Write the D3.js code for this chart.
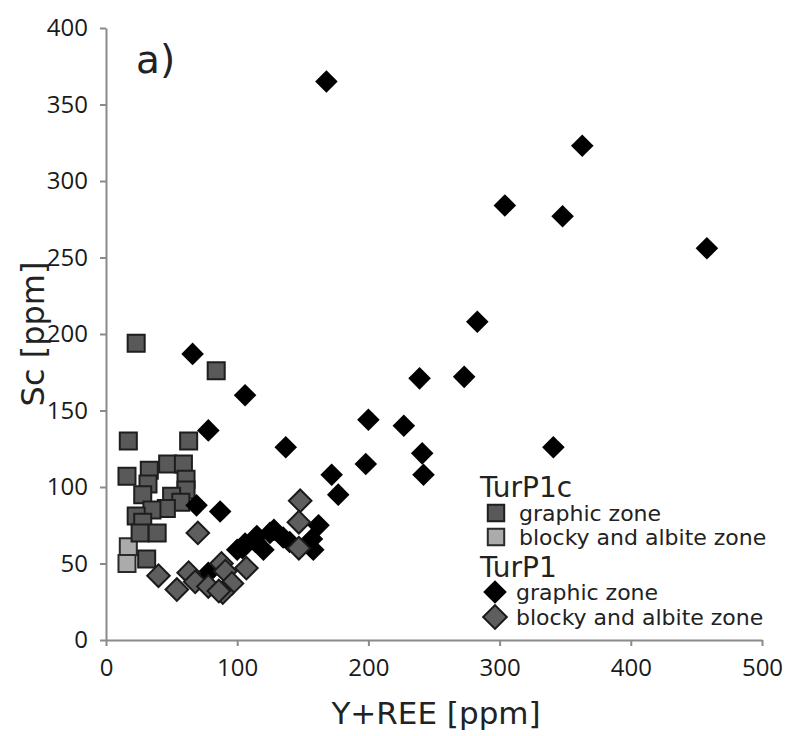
<!DOCTYPE html>
<html>
<head>
<meta charset="utf-8">
<script src="https://cdn.jsdelivr.net/npm/d3@7"></script>
<style>
  body { margin: 0; background: #fff; }
  svg { display: block; }
  .axis path, .axis line { stroke: #8a8a8a; stroke-width: 2; }
  .axis text { font-family: "Open Sans", sans-serif; font-size: 24px; fill: #1a1a1a; }
</style>
</head>
<body>
<svg id="chart" width="794" height="736"></svg>
<script>
// values: [Y+REE, Sc]
var turP1cGraphic = [
  [23, 194], [84, 176], [17, 130], [63, 130], [33, 111], [16, 107], [47, 115],
  [59, 115], [61, 105], [32, 102], [28, 95], [61, 98], [50, 94], [57, 90],
  [46, 86], [35, 85], [23, 81], [28, 77], [26, 70], [39, 70], [31, 53]
];
var turP1cBlocky = [[17, 61], [16, 50]];
var turP1Graphic = [
  [168, 365], [363, 323], [304, 284], [348, 277], [458, 256], [283, 208],
  [239, 171], [273, 172], [66, 187], [106, 160], [227, 140], [200, 144],
  [78, 137], [137, 126], [341, 126], [241, 122], [242, 108], [198, 115],
  [172, 108], [177, 95], [69, 88], [87, 84], [162, 75], [157, 66], [158, 59],
  [140, 64], [135, 67], [128, 72], [125, 70], [115, 68], [114, 64], [120, 59],
  [106, 63], [104, 60], [100, 59], [78, 44]
];
var turP1Blocky = [
  [70, 70], [40, 42], [54, 33], [63, 44], [68, 38], [78, 35], [88, 50],
  [91, 45], [96, 37], [89, 31], [86, 32], [107, 47], [148, 91], [147, 77],
  [147, 60]
];
var xTicks = [0, 100, 200, 300, 400, 500];
var yTicks = [0, 50, 100, 150, 200, 250, 300, 350, 400];

var svg = d3.select('#chart');
var x = d3.scaleLinear().domain([0, 500]).range([106, 762]);
var y = d3.scaleLinear().domain([0, 400]).range([640, 28]);

// axes
svg.append('g').attr('class', 'axis').attr('transform', 'translate(0,640)')
  .call(d3.axisBottom(x).tickValues(xTicks).tickSize(6).tickSizeOuter(0).tickPadding(13));
svg.append('g').attr('class', 'axis').attr('transform', 'translate(106,0)')
  .call(d3.axisLeft(y).tickValues(yTicks).tickSize(6).tickSizeOuter(0).tickPadding(12));

// titles
var font = '"DejaVu Sans", sans-serif';
svg.append('text').attr('x', 436).attr('y', 724).attr('text-anchor', 'middle')
  .attr('font-family', font).attr('font-size', 31).attr('fill', '#222').text('Y+REE [ppm]');
svg.append('text').attr('transform', 'translate(44,334) rotate(-90)').attr('text-anchor', 'middle')
  .attr('font-family', font).attr('font-size', 32).attr('fill', '#222').text('Sc [ppm]');
svg.append('text').attr('x', 136).attr('y', 73)
  .attr('font-family', font).attr('font-size', 39).attr('fill', '#222').text('a)');

// markers
var squareSym = d3.symbol().type(d3.symbolSquare).size(290);
var diamondSym = d3.symbol().type(d3.symbolSquare).size(255);

function drawSeries(data, sym, fill, stroke, rotate) {
  svg.append('g').selectAll('path').data(data).join('path')
    .attr('d', sym)
    .attr('transform', function (d) {
      return 'translate(' + x(d[0]) + ',' + y(d[1]) + ')' + (rotate ? ' rotate(45)' : '');
    })
    .attr('fill', fill)
    .attr('stroke', stroke)
    .attr('stroke-width', stroke === 'none' ? 0 : 2);
}

drawSeries(turP1cBlocky, squareSym, '#ababab', '#2a2a2a', false);
drawSeries(turP1cGraphic, squareSym, '#595959', '#1e1e1e', false);
drawSeries(turP1Graphic, diamondSym, '#000', 'none', true);
drawSeries(turP1Blocky, diamondSym, '#5e5e5e', '#1a1a1a', true);

// legend
var legend = svg.append('g').attr('font-family', font).attr('fill', '#222');
legend.append('text').attr('x', 480).attr('y', 497).attr('font-size', 28).text('TurP1c');
legend.append('text').attr('x', 480).attr('y', 577).attr('font-size', 28).text('TurP1');

var legendItems = [
  { label: 'graphic zone', cy: 513, sx: 496, tx: 519, fill: '#595959', stroke: '#1e1e1e', rot: false },
  { label: 'blocky and albite zone', cy: 537, sx: 496, tx: 519, fill: '#ababab', stroke: '#2a2a2a', rot: false },
  { label: 'graphic zone', cy: 592, sx: 495, tx: 516, fill: '#000', stroke: 'none', rot: true },
  { label: 'blocky and albite zone', cy: 617, sx: 495, tx: 516, fill: '#5e5e5e', stroke: '#1a1a1a', rot: true }
];
legendItems.forEach(function (it) {
  legend.append('path')
    .attr('d', d3.symbol().type(d3.symbolSquare).size(it.rot ? 280 : 270)())
    .attr('transform', 'translate(' + it.sx + ',' + it.cy + ')' + (it.rot ? ' rotate(45)' : ''))
    .attr('fill', it.fill).attr('stroke', it.stroke).attr('stroke-width', it.stroke === 'none' ? 0 : 2);
  legend.append('text').attr('x', it.tx).attr('y', it.cy + 8).attr('font-size', 22).text(it.label);
});
</script>
</body>
</html>
